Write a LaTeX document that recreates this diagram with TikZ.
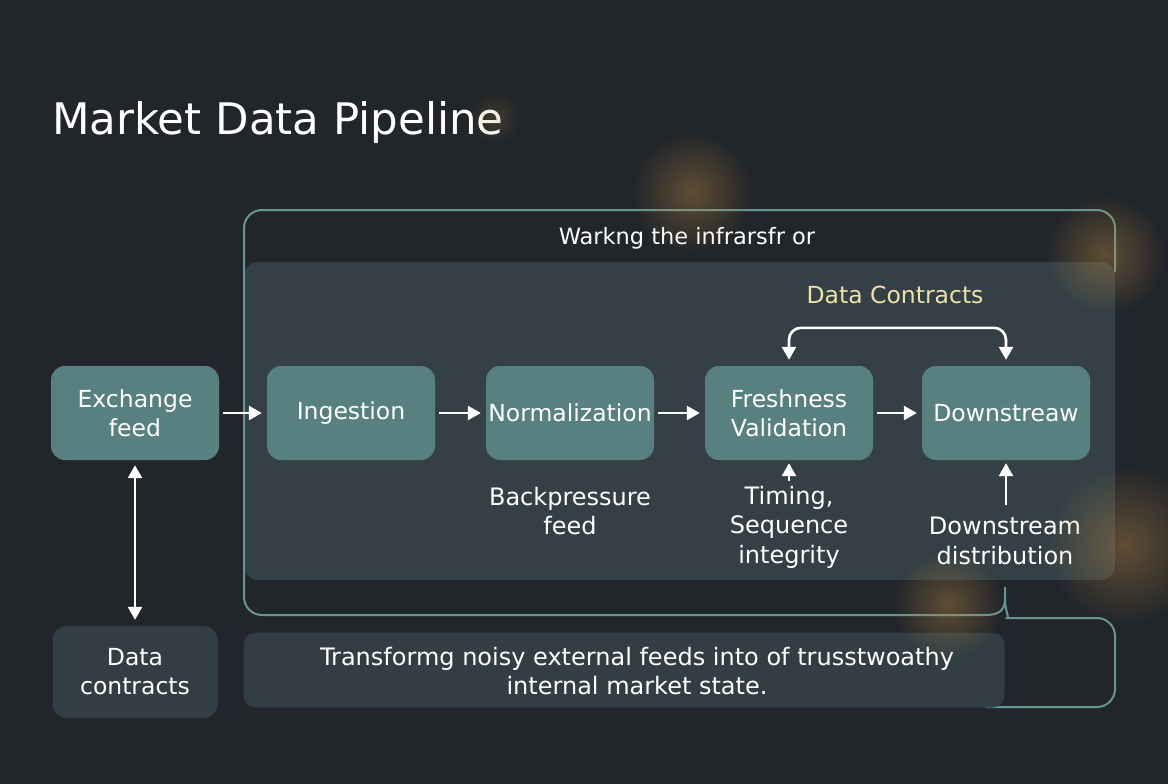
\documentclass[tikz,border=0pt]{standalone}
\usepackage{fontspec}
\setmainfont{DejaVu Sans}
\usepackage{tikz}
\usetikzlibrary{arrows.meta, positioning, fadings}
\definecolor{bgdark}{RGB}{34,38,43}
\definecolor{frameteal}{RGB}{104,148,146}
\definecolor{panelslate}{RGB}{52,64,70}
\definecolor{stageteal}{RGB}{88,128,129}
\definecolor{capslate}{RGB}{50,62,68}
\definecolor{contractcream}{RGB}{238,226,170}
\definecolor{glowamber}{RGB}{190,138,66}
\tikzfading[name=glowfade, inner color=transparent!60, outer color=transparent!100]

\begin{document}
\begin{tikzpicture}[x=1pt, y=-1pt,
  >={Triangle[length=13pt,width=14pt]},
  stage/.style={fill=stageteal, rounded corners=14pt, minimum width=168pt,
    minimum height=94pt, inner sep=1pt, text=white, align=center,
    font=\fontsize{23.5}{29}\selectfont},
  note/.style={text=white, align=center, inner sep=0pt,
    font=\fontsize{24}{29.5}\selectfont},
  flow/.style={->, white, line width=2.6pt},
  frameline/.style={frameteal, line width=2pt},
  glow/.style={glowamber, path fading=glowfade}]
  % Background and page size
  \fill[bgdark] (0,0) rectangle (1168,784);
  \useasboundingbox (0,0) rectangle (1168,784);
  % Title
  \node[anchor=base west, inner sep=0pt, text=white,
    font=\fontsize{43.5}{50}\selectfont] (title) at (52,134) {Market Data Pipeline};
  % Inner panel
  \fill[panelslate, rounded corners=14pt] (244,262) rectangle (1115,580);
  % Outer frame with brace
  \draw[frameline, rounded corners=18pt]
    (1115,272) -- (1115,210) -- (244,210) -- (244,615) -- (985,615);
  \draw[frameline] (985,615) .. controls (1000,615) and (1005,610) .. (1005,598) -- (1005,587);
  \draw[frameline, rounded corners=18pt]
    (1005,598) .. controls (1005,612) and (1010,618) .. (1025,618)
    -- (1115,618) -- (1115,707) -- (985,707);
  % Captions on top of the frame
  \node[note, font=\fontsize{22.5}{28}\selectfont] (infra) at (687,238) {Warkng the infrarsfr or};
  \node[note, text=contractcream, font=\fontsize{23.5}{28}\selectfont] (dcontr) at (895,295) {Data Contracts};
  % Stages
  \node[stage] (exch) at (135,413) {Exchange\\feed};
  \node[stage] (ingest) at (351,413) {Ingestion};
  \node[stage] (norm) at (570,413) {Normalization};
  \node[stage] (fresh) at (789,413) {Freshness\\Validation};
  \node[stage] (down) at (1006,413) {Downstreaw};
  \node[stage, fill=capslate, minimum width=165pt, minimum height=92pt] (contr) at (135,672) {Data\\contracts};
  % Caption box
  \node[fill=capslate, rounded corners=12pt, minimum width=761pt, minimum height=75pt] (capbox) at (624,670) {};
  \node[note] (captext) at (637,671)
    {Transformg noisy external feeds into of trusstwoathy\\internal market state.};
  % Notes under stages
  \node[note] (backp) at (570,511) {Backpressure\\feed};
  \node[note] (timing) at (789,527) {Timing,\\Sequence\\integrity};
  \node[note] (dist) at (1005,541) {Downstream\\distribution};
  \coordinate (timtail) at (789,481);
  \coordinate (disttail) at (1006,505);
  % Flow arrows
  \draw[flow, shorten <=4pt, shorten >=5pt] (exch) -- (ingest);
  \draw[flow, shorten <=4pt, shorten >=5pt] (ingest) -- (norm);
  \draw[flow, shorten <=4pt, shorten >=5pt] (norm) -- (fresh);
  \draw[flow, shorten <=4pt, shorten >=5pt] (fresh) -- (down);
  \draw[flow, shorten >=3pt] (timtail) -- (fresh);
  \draw[flow, shorten >=3pt] (disttail) -- (down);
  \draw[flow, <->, shorten <=5pt, shorten >=6pt] (exch) -- (contr);
  \draw[flow, <->, rounded corners=12pt, shorten <=6pt, shorten >=6pt]
    (fresh.north) -- ++(0,-38) -| (down.north);
  % Warm glows
  \fill[glow] (692,192) circle (60);
  \fill[glow] (1105,255) circle (60);
  \fill[glow] (1125,545) circle (80);
  \fill[glow] (948,605) circle (55);
  \fill[glow, opacity=0.5] (495,118) circle (26);
\end{tikzpicture}
\end{document}
